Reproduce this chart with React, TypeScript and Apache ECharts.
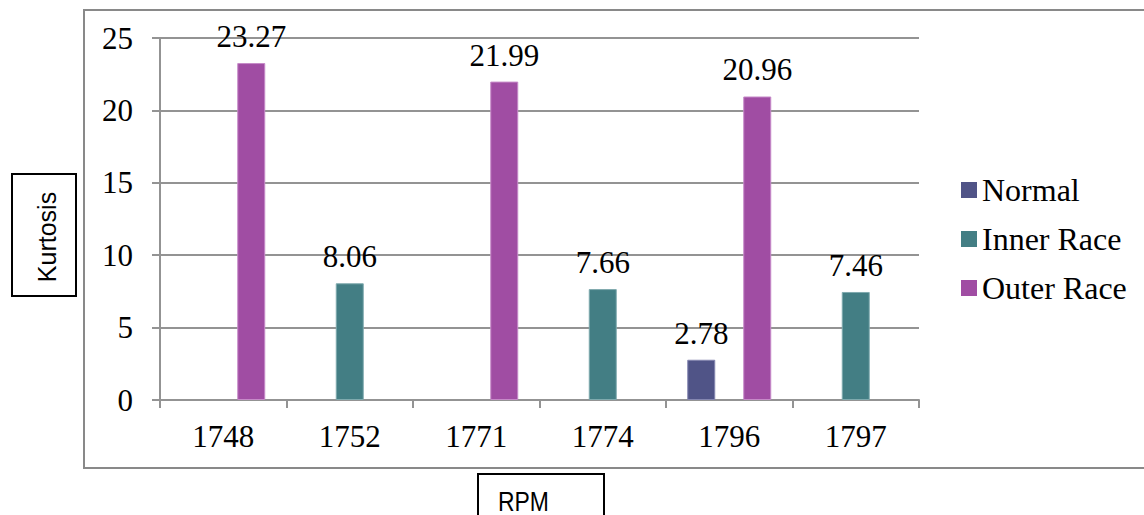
import React, { useEffect, useRef } from "react";
import * as echarts from "echarts";

// Kurtosis per shaft speed for each bearing condition
const categories = ["1748", "1752", "1771", "1774", "1796", "1797"];
const normalValues = [null, null, null, null, 2.78, null];
const innerRaceValues = [null, 8.06, null, 7.66, null, 7.46];
const outerRaceValues = [23.27, null, 21.99, null, 20.96, null];
const seriesNames = ["Normal", "Inner Race", "Outer Race"];
const seriesColors = ["#505487", "#437E84", "#A04DA3"];
const seriesEdges = ["#8486B0", "#7FAAAE", "#C68AC8"];
const yMin = 0;
const yMax = 25;
const yStep = 5;

const SERIF = "'Liberation Serif', 'Times New Roman', serif";
const SANS = "'Liberation Sans', Arial, sans-serif";
const GRID_GRAY = "#939393";

export default function App() {
  const ref = useRef<HTMLDivElement>(null);

  useEffect(() => {
    if (!ref.current) return;
    const chart = echarts.init(ref.current, null, { renderer: "svg" });

    const valueLabel = {
      show: true,
      position: "top",
      distance: 11,
      fontFamily: SERIF,
      fontSize: 31,
      color: "#000",
      formatter: (p: any) => (p.value == null ? "" : Number(p.value).toFixed(2)),
    };

    const makeSeries = (name: string, data: (number | null)[], color: string, edge: string) => ({
      name,
      type: "bar",
      data,
      barWidth: 28,
      barGap: "0%",
      itemStyle: { color, borderColor: edge, borderWidth: 1 },
      label: valueLabel,
    });

    chart.setOption({
      animation: false,
      backgroundColor: "#fff",
      grid: { left: 160, right: 225, top: 38, bottom: 115, containLabel: false },
      legend: {
        orient: "vertical",
        left: 961,
        top: 174,
        padding: 0,
        itemGap: 17,
        itemWidth: 16,
        itemHeight: 16,
        icon: "rect",
        data: seriesNames.map((name, i) => ({
          name,
          itemStyle: { color: seriesColors[i], borderWidth: 0 },
        })),
        textStyle: { fontFamily: SERIF, fontSize: 32, lineHeight: 32, color: "#000" },
      },
      xAxis: {
        type: "category",
        data: categories,
        boundaryGap: true,
        axisLine: { show: true, lineStyle: { color: GRID_GRAY, width: 2 } },
        axisTick: { show: true, length: 8, alignWithLabel: false, lineStyle: { color: GRID_GRAY, width: 2 } },
        axisLabel: { margin: 21, fontFamily: SERIF, fontSize: 31, color: "#000" },
        splitLine: { show: false },
      },
      yAxis: {
        type: "value",
        min: yMin,
        max: yMax,
        interval: yStep,
        axisLine: { show: true, lineStyle: { color: GRID_GRAY, width: 2 } },
        axisTick: { show: true, length: 8, lineStyle: { color: GRID_GRAY, width: 2 } },
        axisLabel: { margin: 27, fontFamily: SERIF, fontSize: 31, color: "#000" },
        splitLine: { show: true, lineStyle: { color: GRID_GRAY, width: 2 } },
      },
      series: [
        makeSeries(seriesNames[0], normalValues, seriesColors[0], seriesEdges[0]),
        makeSeries(seriesNames[1], innerRaceValues, seriesColors[1], seriesEdges[1]),
        makeSeries(seriesNames[2], outerRaceValues, seriesColors[2], seriesEdges[2]),
      ],
      graphic: [
        {
          type: "rect",
          silent: true,
          shape: { x: 84, y: 10, width: 1100, height: 458 },
          style: { fill: "none", stroke: "#898989", lineWidth: 2 },
          z: -1,
        },
        {
          type: "rect",
          silent: true,
          shape: { x: 12, y: 174, width: 64, height: 122 },
          style: { fill: "#fff", stroke: "#000", lineWidth: 2 },
        },
        {
          type: "text",
          silent: true,
          x: 47,
          y: 237,
          rotation: Math.PI / 2,
          style: {
            text: "Kurtosis",
            fontFamily: SANS,
            fontSize: 25,
            fill: "#000",
            align: "center",
            verticalAlign: "middle",
          },
        },
        {
          type: "rect",
          silent: true,
          shape: { x: 478, y: 474, width: 126, height: 60 },
          style: { fill: "#fff", stroke: "#000", lineWidth: 2 },
        },
        {
          type: "text",
          silent: true,
          x: 498,
          y: 501,
          scaleX: 0.85,
          style: {
            text: "RPM",
            fontFamily: SANS,
            fontSize: 27,
            fill: "#000",
            align: "left",
            verticalAlign: "middle",
          },
        },
      ],
    });

    return () => chart.dispose();
  }, []);

  return (
    <div
      ref={ref}
      style={{ position: "fixed", left: 0, top: 0, width: 1144, height: 515 }}
    />
  );
}
